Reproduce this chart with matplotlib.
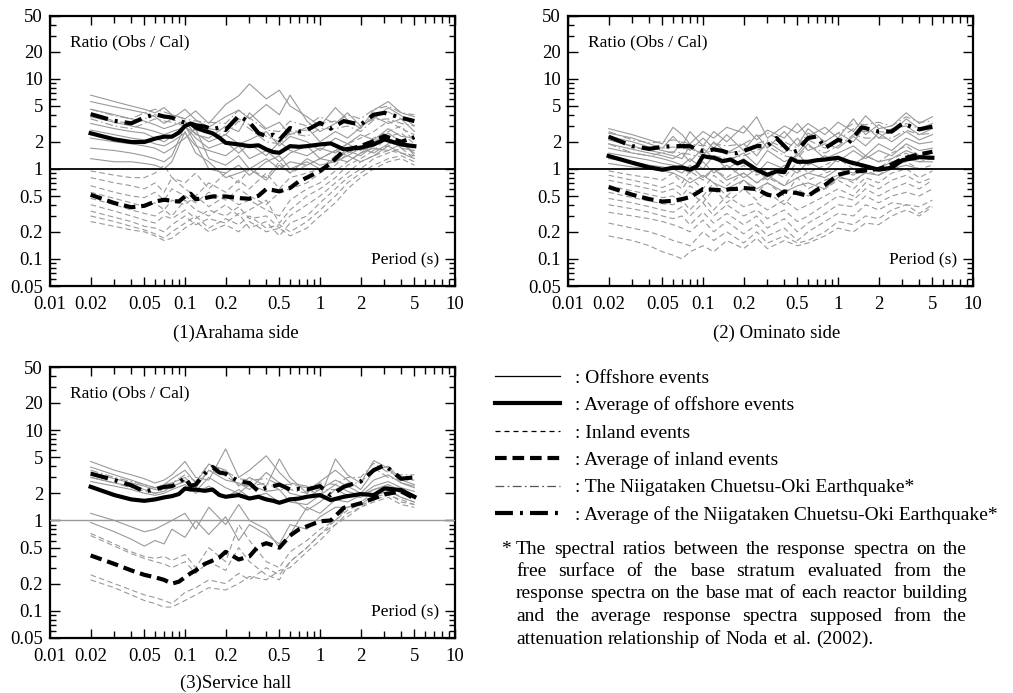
import matplotlib
matplotlib.use("Agg")
import matplotlib.pyplot as plt
from matplotlib.lines import Line2D
from matplotlib.ticker import FixedLocator, NullFormatter

plt.rcParams['font.family'] = ['Liberation Serif', 'DejaVu Serif']

# periods (s) at which the thin event curves were read
period = [0.02, 0.03, 0.04, 0.05, 0.06, 0.07, 0.08, 0.1, 0.12, 0.15, 0.2, 0.25, 0.3,
          0.4, 0.5, 0.6, 0.8, 1.0, 1.3, 1.6, 2.0, 2.5, 3.2, 4.0, 5.0]
# periods (s) at which the thick average curves were read
period_avg = [0.02, 0.03, 0.04, 0.05, 0.06, 0.07, 0.08, 0.09, 0.1, 0.11, 0.12, 0.14, 0.16,
              0.18, 0.2, 0.25, 0.3, 0.35, 0.4, 0.45, 0.5, 0.6, 0.7, 0.8, 1.0, 1.2, 1.5,
              2.0, 2.5, 3.0, 4.0, 5.0]

# ---- (1) Arahama side ----
arahama_offshore = [
    [6.6, 5.6, 5.0, 4.6, 4.2, 4.8, 4.0, 3.6, 4.4, 3.2, 5.2, 6.5, 8.8, 6.0, 7.5, 5.0, 3.8, 3.0, 4.8, 3.5, 2.8, 4.5, 5.6, 4.2, 3.8],
    [5.6, 4.9, 4.5, 4.2, 3.8, 3.2, 3.6, 4.6, 3.5, 2.9, 3.8, 4.5, 3.6, 5.2, 4.0, 6.6, 3.4, 2.6, 3.2, 4.2, 3.0, 3.6, 4.8, 3.9, 3.0],
    [4.6, 4.0, 3.6, 3.4, 3.1, 2.8, 3.0, 3.4, 2.4, 2.2, 3.0, 2.6, 4.2, 2.8, 3.3, 2.4, 2.9, 2.0, 2.6, 2.2, 2.9, 3.8, 3.2, 3.6, 2.6],
    [3.8, 3.3, 3.0, 2.8, 2.6, 2.4, 2.6, 2.9, 2.5, 2.0, 2.4, 1.9, 2.1, 2.6, 1.8, 2.3, 2.0, 1.6, 2.2, 1.9, 2.4, 2.1, 2.8, 2.3, 2.2],
    [3.2, 2.8, 2.6, 2.5, 2.2, 2.0, 2.3, 3.0, 2.2, 1.7, 2.0, 1.5, 1.9, 1.4, 2.0, 1.6, 1.4, 1.7, 1.5, 1.9, 1.6, 2.0, 2.5, 2.0, 1.8],
    [2.7, 2.4, 2.2, 2.1, 1.9, 1.8, 2.0, 2.5, 1.8, 1.6, 1.4, 1.8, 1.3, 1.6, 1.2, 1.5, 1.8, 1.3, 1.2, 1.6, 1.4, 1.8, 2.2, 1.7, 1.6],
    [2.2, 2.0, 1.9, 1.8, 1.7, 1.5, 1.7, 2.2, 2.8, 1.3, 1.1, 1.4, 1.0, 1.3, 1.0, 1.2, 1.1, 1.3, 1.6, 1.4, 1.7, 1.5, 1.9, 2.1, 1.4],
    [1.7, 1.6, 1.5, 1.4, 1.3, 1.2, 1.4, 3.0, 1.9, 1.0, 0.9, 1.1, 0.85, 1.2, 1.4, 1.0, 1.2, 1.0, 1.3, 1.2, 1.5, 1.7, 1.6, 1.9, 1.5],
    [1.3, 1.2, 1.2, 1.15, 1.1, 1.0, 1.2, 2.6, 1.5, 1.2, 0.8, 0.9, 1.0, 0.75, 1.1, 0.9, 1.3, 1.1, 1.2, 1.4, 1.2, 1.4, 1.8, 1.5, 1.3],
]
arahama_inland = [
    [0.95, 0.85, 0.8, 0.8, 0.9, 1.1, 0.8, 0.7, 0.9, 0.6, 0.9, 0.7, 1.0, 0.8, 1.2, 0.9, 1.1, 1.3, 1.6, 1.9, 2.2, 2.6, 3.4, 2.8, 2.4],
    [0.8, 0.7, 0.65, 0.6, 0.7, 0.55, 0.8, 0.6, 0.5, 0.7, 0.55, 0.75, 0.6, 0.9, 0.6, 0.8, 0.9, 1.0, 1.4, 1.6, 1.8, 2.2, 2.6, 3.0, 2.0],
    [0.65, 0.55, 0.5, 0.48, 0.55, 0.45, 0.6, 0.5, 0.42, 0.55, 0.45, 0.6, 0.5, 0.4, 0.55, 0.6, 0.7, 0.9, 1.1, 1.5, 1.7, 1.6, 2.3, 2.5, 1.9],
    [0.55, 0.47, 0.42, 0.38, 0.42, 0.35, 0.45, 0.4, 0.5, 0.38, 0.5, 0.4, 0.45, 0.35, 0.3, 0.45, 0.6, 0.7, 0.95, 1.2, 1.5, 1.9, 2.1, 1.8, 1.7],
    [0.47, 0.4, 0.35, 0.32, 0.3, 0.35, 0.3, 0.45, 0.35, 0.3, 0.4, 0.3, 0.35, 0.45, 0.25, 0.35, 0.5, 0.6, 0.8, 1.1, 1.3, 1.6, 1.8, 2.0, 1.5],
    [0.4, 0.34, 0.3, 0.27, 0.25, 0.3, 0.28, 0.35, 0.28, 0.35, 0.3, 0.38, 0.28, 0.3, 0.22, 0.3, 0.4, 0.5, 0.7, 0.9, 1.2, 1.4, 1.6, 1.5, 1.4],
    [0.34, 0.29, 0.26, 0.23, 0.22, 0.2, 0.24, 0.3, 0.24, 0.28, 0.25, 0.32, 0.22, 0.26, 0.18, 0.25, 0.3, 0.42, 0.6, 0.8, 1.0, 1.3, 1.5, 1.7, 1.3],
    [0.3, 0.26, 0.23, 0.21, 0.19, 0.17, 0.2, 0.25, 0.3, 0.22, 0.28, 0.24, 0.3, 0.22, 0.24, 0.2, 0.26, 0.35, 0.5, 0.7, 0.9, 1.1, 1.3, 1.4, 1.2],
    [0.26, 0.23, 0.21, 0.2, 0.18, 0.16, 0.17, 0.22, 0.26, 0.2, 0.24, 0.2, 0.26, 0.2, 0.22, 0.18, 0.22, 0.3, 0.42, 0.6, 0.8, 1.0, 1.2, 1.3, 1.1],
]
arahama_chuetsu = [
    [4.6, 3.9, 3.6, 4.2, 4.6, 4.3, 4.0, 3.6, 3.4, 3.3, 3.2, 4.5, 3.7, 2.7, 2.6, 3.4, 3.0, 3.8, 3.2, 4.0, 3.6, 4.6, 5.0, 4.2, 4.0],
    [4.1, 3.4, 3.2, 3.6, 4.0, 3.7, 3.6, 3.1, 3.0, 2.8, 2.6, 3.6, 3.1, 2.3, 2.0, 2.6, 2.7, 3.2, 3.4, 3.3, 3.0, 3.9, 4.3, 3.6, 3.4],
    [3.6, 3.0, 2.8, 3.2, 3.6, 3.4, 3.3, 3.0, 2.7, 2.5, 2.4, 3.4, 2.8, 2.0, 1.9, 2.5, 2.3, 2.8, 2.8, 3.0, 2.6, 3.5, 3.6, 3.2, 3.0],
]
arahama_offshore_avg = [2.49, 2.13, 1.99, 1.99, 2.17, 2.28, 2.28, 2.53, 3.0, 3.2, 2.88, 2.64, 2.49, 2.22, 1.95, 1.87,
                        1.79, 1.83, 1.65, 1.54, 1.51, 1.79, 1.76, 1.79, 1.87, 1.92, 1.65, 1.72, 1.87, 2.13, 1.87, 1.79]
arahama_inland_avg = [0.516, 0.417, 0.375, 0.389, 0.434, 0.454, 0.442, 0.434, 0.494, 0.53, 0.46, 0.474, 0.494, 0.494, 0.494, 0.474,
                      0.466, 0.503, 0.597, 0.58, 0.562, 0.613, 0.73, 0.8, 0.95, 1.15, 1.6, 1.79, 2.04, 2.32, 2.0, 2.25]
arahama_chuetsu_avg = [4.06, 3.42, 3.21, 3.72, 4.06, 3.82, 3.72, 3.42, 3.27, 3.2, 3.06, 2.95, 2.76, 2.88, 2.71, 3.89,
                       3.3, 2.5, 2.3, 2.4, 2.1, 2.85, 2.6, 2.7, 3.25, 2.8, 3.4, 3.1, 4.0, 4.2, 3.7, 3.4]

# ---- (2) Ominato side ----
ominato_offshore = [
    [2.8, 2.4, 2.1, 1.9, 2.9, 2.4, 1.9, 2.6, 2.2, 2.9, 2.5, 3.8, 2.2, 3.0, 2.5, 3.2, 2.4, 3.3, 2.6, 3.9, 2.8, 3.0, 4.2, 3.2, 3.8],
    [2.5, 2.2, 1.9, 1.7, 2.3, 1.8, 2.6, 1.8, 2.6, 2.0, 3.0, 2.1, 2.7, 2.2, 3.2, 2.3, 2.9, 2.2, 3.6, 2.4, 3.1, 2.5, 3.6, 2.8, 3.2],
    [2.3, 2.0, 1.75, 1.6, 1.5, 2.0, 1.6, 2.2, 1.7, 2.4, 1.6, 2.4, 1.7, 2.6, 1.8, 2.8, 2.0, 2.5, 2.0, 3.0, 2.2, 2.8, 3.0, 2.4, 2.8],
    [2.1, 1.8, 1.6, 1.5, 1.4, 1.3, 1.8, 1.4, 2.0, 1.5, 1.9, 1.4, 2.0, 1.5, 2.2, 1.6, 1.9, 1.7, 2.3, 1.8, 2.5, 2.0, 2.6, 2.1, 2.4],
    [1.9, 1.65, 1.5, 1.4, 1.3, 1.5, 1.2, 1.7, 1.3, 1.2, 1.5, 1.1, 1.6, 1.2, 1.4, 1.9, 1.3, 1.5, 1.8, 1.4, 1.9, 1.6, 2.2, 1.9, 2.0],
    [1.7, 1.5, 1.4, 1.3, 1.2, 1.1, 1.3, 1.0, 1.4, 1.0, 1.3, 0.9, 1.2, 1.0, 1.5, 1.1, 1.4, 1.2, 1.6, 1.3, 1.6, 1.4, 1.9, 1.6, 1.7],
    [1.5, 1.35, 1.25, 1.15, 1.1, 1.0, 0.9, 1.2, 0.9, 1.1, 0.8, 1.0, 0.75, 1.1, 0.9, 1.2, 0.95, 1.3, 1.1, 1.4, 1.2, 1.3, 1.6, 1.4, 1.5],
    [1.3, 1.2, 1.1, 1.05, 1.0, 0.9, 1.1, 0.8, 1.0, 0.75, 0.9, 0.7, 0.85, 0.65, 0.8, 0.9, 0.8, 1.0, 0.9, 1.1, 1.0, 1.2, 1.3, 1.2, 1.2],
    [1.15, 1.05, 1.0, 0.95, 0.9, 0.8, 0.7, 0.85, 0.7, 0.6, 0.75, 0.6, 0.7, 0.55, 0.65, 0.7, 0.6, 0.8, 0.75, 0.9, 0.85, 1.0, 1.1, 1.0, 1.0],
]
ominato_inland = [
    [0.95, 0.85, 0.8, 0.75, 0.9, 0.7, 0.95, 0.75, 1.0, 0.8, 1.1, 0.85, 1.0, 0.8, 1.2, 0.9, 1.1, 1.3, 1.0, 1.4, 1.2, 1.5, 1.8, 1.4, 1.6],
    [0.85, 0.75, 0.68, 0.62, 0.7, 0.6, 0.8, 0.6, 0.85, 0.65, 0.9, 0.7, 0.8, 0.65, 1.0, 0.75, 0.9, 1.0, 0.85, 1.1, 1.0, 1.3, 1.5, 1.2, 1.3],
    [0.75, 0.66, 0.6, 0.55, 0.6, 0.5, 0.65, 0.5, 0.7, 0.5, 0.75, 0.55, 0.7, 0.5, 0.8, 0.6, 0.75, 0.85, 0.7, 0.95, 0.85, 1.1, 1.2, 1.0, 1.1],
    [0.65, 0.57, 0.52, 0.48, 0.5, 0.42, 0.55, 0.42, 0.6, 0.42, 0.6, 0.45, 0.55, 0.4, 0.6, 0.5, 0.6, 0.75, 0.6, 0.8, 0.7, 0.9, 1.0, 0.8, 0.95],
    [0.55, 0.48, 0.44, 0.41, 0.4, 0.45, 0.35, 0.5, 0.35, 0.5, 0.38, 0.42, 0.35, 0.45, 0.35, 0.4, 0.5, 0.6, 0.5, 0.7, 0.6, 0.75, 0.85, 0.7, 0.8],
    [0.47, 0.42, 0.38, 0.35, 0.33, 0.38, 0.3, 0.42, 0.3, 0.4, 0.3, 0.35, 0.28, 0.35, 0.26, 0.3, 0.4, 0.5, 0.45, 0.6, 0.5, 0.6, 0.7, 0.6, 0.75],
    [0.4, 0.36, 0.33, 0.3, 0.28, 0.3, 0.24, 0.33, 0.25, 0.32, 0.24, 0.3, 0.22, 0.28, 0.2, 0.25, 0.32, 0.4, 0.38, 0.5, 0.42, 0.5, 0.55, 0.5, 0.6],
    [0.33, 0.3, 0.28, 0.26, 0.24, 0.22, 0.2, 0.27, 0.2, 0.26, 0.19, 0.24, 0.18, 0.22, 0.16, 0.2, 0.26, 0.32, 0.3, 0.4, 0.35, 0.42, 0.4, 0.38, 0.45],
    [0.25, 0.22, 0.2, 0.18, 0.16, 0.15, 0.14, 0.2, 0.16, 0.2, 0.15, 0.2, 0.15, 0.18, 0.15, 0.16, 0.2, 0.26, 0.24, 0.3, 0.28, 0.35, 0.4, 0.32, 0.4],
    [0.18, 0.16, 0.14, 0.12, 0.11, 0.1, 0.12, 0.14, 0.12, 0.16, 0.13, 0.17, 0.13, 0.16, 0.14, 0.15, 0.18, 0.22, 0.2, 0.25, 0.24, 0.3, 0.35, 0.3, 0.38],
]
ominato_chuetsu = [
    [2.6, 2.1, 1.95, 2.0, 2.1, 2.0, 1.9, 1.8, 1.9, 1.8, 1.9, 2.3, 2.5, 2.0, 1.7, 2.5, 2.0, 2.5, 3.2, 3.1, 3.3, 3.0, 3.8, 3.3, 3.4],
    [2.2, 1.75, 1.6, 1.7, 1.75, 1.7, 1.65, 1.5, 1.6, 1.5, 1.6, 1.9, 2.1, 1.7, 1.5, 2.1, 1.7, 2.1, 2.8, 2.6, 2.6, 2.5, 3.2, 2.8, 2.9],
    [1.9, 1.5, 1.4, 1.5, 1.55, 1.5, 1.45, 1.35, 1.4, 1.3, 1.4, 1.6, 1.8, 1.4, 1.3, 1.8, 1.5, 1.8, 2.4, 2.2, 2.2, 2.2, 2.7, 2.4, 2.5],
]
ominato_offshore_avg = [1.39, 1.17, 1.04, 0.98, 1.03, 1.04, 0.98, 1.07, 1.39, 1.35, 1.33, 1.22, 1.27, 1.15, 1.22, 0.98,
                        0.86, 0.94, 0.92, 1.3, 1.2, 1.2, 1.25, 1.27, 1.33, 1.2, 1.1, 0.98, 1.03, 1.25, 1.35, 1.33]
ominato_inland_avg = [0.629, 0.516, 0.462, 0.434, 0.442, 0.462, 0.486, 0.538, 0.597, 0.59, 0.587, 0.577, 0.597, 0.6, 0.613, 0.597,
                      0.516, 0.494, 0.562, 0.55, 0.538, 0.5, 0.587, 0.66, 0.86, 0.92, 0.95, 1.0, 1.12, 1.3, 1.45, 1.55]
ominato_chuetsu_avg = [2.28, 1.79, 1.67, 1.76, 1.79, 1.79, 1.79, 1.65, 1.58, 1.6, 1.65, 1.58, 1.48, 1.5, 1.58, 1.79,
                       1.8, 2.2, 1.8, 1.5, 1.6, 2.2, 2.3, 1.7, 2.1, 1.95, 2.9, 2.6, 2.6, 3.2, 2.75, 2.95]

# ---- (3) Service hall ----
service_offshore = [
    [4.5, 3.6, 3.2, 2.9, 2.6, 2.8, 3.2, 4.5, 3.0, 2.8, 6.2, 3.0, 3.6, 5.2, 3.4, 2.6, 2.4, 1.8, 4.8, 3.2, 2.6, 4.6, 3.8, 2.6, 2.4],
    [3.9, 3.2, 2.8, 2.5, 2.3, 2.5, 2.9, 3.6, 2.6, 4.2, 3.6, 2.4, 3.0, 2.4, 4.8, 3.0, 2.0, 2.7, 3.6, 2.8, 2.2, 3.5, 4.0, 2.8, 2.5],
    [3.4, 2.9, 2.6, 2.4, 2.2, 2.3, 2.6, 3.0, 2.3, 3.6, 2.8, 2.6, 2.2, 3.4, 2.6, 2.0, 1.8, 2.2, 2.8, 2.4, 2.0, 2.8, 3.2, 2.6, 2.3],
    [3.0, 2.6, 2.4, 2.2, 2.0, 2.1, 2.4, 2.7, 2.1, 3.0, 2.3, 2.0, 2.5, 2.1, 2.2, 1.6, 1.5, 1.9, 2.5, 2.1, 1.9, 2.4, 2.7, 2.3, 2.1],
    [2.7, 2.4, 2.2, 2.0, 1.9, 2.0, 2.2, 2.5, 2.0, 2.4, 1.8, 2.2, 1.8, 2.0, 1.6, 1.8, 1.3, 1.6, 2.2, 1.9, 1.8, 2.2, 2.5, 2.1, 1.9],
    [1.2, 1.0, 0.85, 0.75, 0.8, 0.9, 1.0, 1.2, 0.8, 1.4, 0.9, 1.5, 1.0, 0.8, 0.5, 0.7, 1.4, 1.2, 1.7, 1.6, 1.9, 2.2, 2.4, 2.0, 1.8],
    [0.95, 0.75, 0.62, 0.52, 0.6, 0.55, 0.8, 0.65, 1.0, 0.7, 1.1, 0.6, 0.9, 0.7, 0.55, 0.9, 0.8, 1.1, 1.4, 1.4, 1.5, 1.9, 2.1, 1.8, 1.6],
]
service_inland = [
    [0.72, 0.55, 0.45, 0.4, 0.38, 0.4, 0.36, 0.42, 0.3, 0.5, 0.35, 0.9, 0.6, 0.35, 0.3, 0.45, 0.6, 0.8, 1.0, 1.4, 1.6, 2.0, 2.2, 1.8, 1.6],
    [0.68, 0.52, 0.43, 0.38, 0.35, 0.33, 0.3, 0.35, 0.26, 0.35, 0.28, 0.5, 0.35, 0.25, 0.22, 0.35, 0.5, 0.7, 0.9, 1.2, 1.4, 1.8, 2.0, 1.6, 1.5],
    [0.25, 0.2, 0.17, 0.15, 0.14, 0.13, 0.12, 0.16, 0.18, 0.22, 0.2, 0.26, 0.22, 0.3, 0.25, 0.35, 0.5, 0.7, 1.0, 1.3, 1.5, 1.7, 1.9, 1.7, 1.5],
    [0.22, 0.18, 0.15, 0.13, 0.12, 0.11, 0.11, 0.13, 0.15, 0.18, 0.17, 0.2, 0.24, 0.22, 0.28, 0.3, 0.45, 0.6, 0.9, 1.1, 1.4, 1.6, 1.8, 1.5, 1.4],
]
service_chuetsu = [
    [3.6, 3.0, 2.7, 2.5, 2.3, 2.5, 2.6, 3.2, 2.7, 4.2, 3.5, 2.9, 2.8, 2.9, 2.5, 2.5, 2.3, 2.6, 2.5, 3.0, 3.0, 4.3, 3.4, 3.2, 3.2],
    [3.0, 2.6, 2.3, 2.1, 2.0, 2.2, 2.3, 2.8, 2.4, 3.6, 3.1, 2.5, 2.4, 2.6, 2.2, 2.2, 2.0, 2.2, 2.2, 2.6, 2.6, 3.8, 3.0, 2.8, 2.8],
]
service_offshore_avg = [2.36, 1.91, 1.71, 1.65, 1.71, 1.80, 1.86, 1.96, 2.26, 2.2, 2.20, 2.13, 2.20, 1.91, 1.83, 1.91,
                        1.75, 1.83, 1.71, 1.65, 1.57, 1.71, 1.75, 1.83, 1.91, 1.68, 1.83, 1.96, 1.91, 2.26, 2.17, 1.83]
service_inland_avg = [0.41, 0.33, 0.28, 0.25, 0.235, 0.22, 0.20, 0.21, 0.235, 0.26, 0.28, 0.33, 0.36, 0.39, 0.45, 0.37,
                      0.40, 0.52, 0.56, 0.53, 0.50, 0.68, 0.80, 0.86, 0.98, 1.0, 1.38, 1.55, 1.75, 1.95, 2.1, 1.75]
service_chuetsu_avg = [3.3, 2.8, 2.45, 2.1, 2.2, 2.35, 2.4, 2.6, 3.0, 2.4, 2.5, 3.3, 3.9, 3.4, 3.3, 2.7,
                       2.6, 2.1, 2.3, 2.4, 2.5, 2.2, 2.25, 2.2, 2.4, 1.9, 2.36, 2.7, 3.6, 4.1, 2.9, 3.0]

panel_titles = ['(1)Arahama side', '(2) Ominato side', '(3)Service hall']
x_tick_values = [0.01, 0.02, 0.05, 0.1, 0.2, 0.5, 1, 2, 5, 10]
x_tick_labels = ['0.01', '0.02', '0.05', '0.1', '0.2', '0.5', '1', '2', '5', '10']
y_tick_values = [0.05, 0.1, 0.2, 0.5, 1, 2, 5, 10, 20, 50]
y_tick_labels = ['0.05', '0.1', '0.2', '0.5', '1', '2', '5', '10', '20', '50']
legend_labels = ['Offshore events', 'Average of offshore events', 'Inland events',
                 'Average of inland events', 'The Niigataken Chuetsu-Oki Earthquake*',
                 'Average of the Niigataken Chuetsu-Oki Earthquake*']
footnote_lines = [
    'The spectral ratios between the response spectra on the',
    'free surface of the base stratum evaluated from the',
    'response spectra on the base mat of each reactor building',
    'and the average response spectra supposed from the',
    'attenuation relationship of Noda et al. (2002).',
]

GRAY = '#999999'
THIN = 0.8
THICK = 3.0
DASH_THIN = (5, 3)
DASHDOT_THIN = (7, 2.7, 1.4, 2.7)
DASH_THICK = (2.8, 1.4)
DASHDOT_THICK = (4.3, 1.7, 0.7, 1.7)
TICK_FS = 13.5

W, H = 1013, 693
fig = plt.figure(figsize=(W / 100, H / 100), dpi=100)
ax1 = fig.add_axes([50 / W, 1 - 286 / H, 405 / W, 270 / H])
ax2 = fig.add_axes([568 / W, 1 - 286 / H, 405 / W, 270 / H])
ax3 = fig.add_axes([50 / W, 1 - 638 / H, 405 / W, 271 / H])


def draw_panel(ax, off, inl, chu, off_avg, in_avg, ch_avg, unity_color):
    for v in off:
        ax.plot(period, v, color=GRAY, lw=THIN)
    for v in inl:
        ax.plot(period, v, color=GRAY, lw=THIN, dashes=DASH_THIN)
    for v in chu:
        ax.plot(period, v, color=GRAY, lw=THIN, dashes=DASHDOT_THIN)
    ax.axhline(1, color=unity_color, lw=1.3 if unity_color == 'black' else 1.0, zorder=3)
    ax.plot(period_avg, off_avg, color='black', lw=THICK, zorder=4)
    ax.plot(period_avg, in_avg, color='black', lw=THICK, dashes=DASH_THICK, zorder=4)
    ax.plot(period_avg, ch_avg, color='black', lw=THICK, dashes=DASHDOT_THICK, zorder=4)

    ax.set_xscale('log')
    ax.set_yscale('log')
    ax.set_xlim(0.01, 10)
    ax.set_ylim(0.05, 50)
    ax.xaxis.set_major_locator(FixedLocator(x_tick_values))
    ax.set_xticklabels(x_tick_labels)
    ax.xaxis.set_minor_locator(FixedLocator([0.03, 0.04, 0.06, 0.07, 0.08, 0.09, 0.3, 0.4, 0.6, 0.7,
                                             0.8, 0.9, 3, 4, 6, 7, 8, 9]))
    ax.yaxis.set_major_locator(FixedLocator(y_tick_values))
    ax.set_yticklabels(y_tick_labels)
    ax.yaxis.set_minor_locator(FixedLocator([0.06, 0.07, 0.08, 0.09, 0.3, 0.4, 0.6, 0.7, 0.8, 0.9,
                                             3, 4, 6, 7, 8, 9, 30, 40]))
    ax.xaxis.set_minor_formatter(NullFormatter())
    ax.yaxis.set_minor_formatter(NullFormatter())
    ax.tick_params(which='both', direction='in', top=True, right=True, labelsize=TICK_FS, width=1.0)
    ax.tick_params(axis='x', which='major', length=6.5, pad=7)
    ax.tick_params(axis='x', which='minor', length=5)
    ax.tick_params(axis='y', which='major', length=7.5, pad=5)
    ax.tick_params(axis='y', which='minor', length=4.5)
    for s in ax.spines.values():
        s.set_linewidth(1.6)
    ax.text(0.049, 0.904, 'Ratio (Obs / Cal)', transform=ax.transAxes, ha='left', va='center', fontsize=12.5)
    ax.text(0.96, 0.10, 'Period (s)', transform=ax.transAxes, ha='right', va='center', fontsize=12.5)


draw_panel(ax1, arahama_offshore, arahama_inland, arahama_chuetsu,
           arahama_offshore_avg, arahama_inland_avg, arahama_chuetsu_avg, 'black')
draw_panel(ax2, ominato_offshore, ominato_inland, ominato_chuetsu,
           ominato_offshore_avg, ominato_inland_avg, ominato_chuetsu_avg, 'black')
draw_panel(ax3, service_offshore, service_inland, service_chuetsu,
           service_offshore_avg, service_inland_avg, service_chuetsu_avg, GRAY)

fig.text(236 / W, 1 - 333 / H, panel_titles[0], ha='center', va='center', fontsize=13.5)
fig.text(777 / W, 1 - 333 / H, panel_titles[1], ha='center', va='center', fontsize=13.5)
fig.text(236 / W, 1 - 683 / H, panel_titles[2], ha='center', va='center', fontsize=13.5)

handles = [
    Line2D([], [], color='black', lw=0.9),
    Line2D([], [], color='black', lw=THICK),
    Line2D([], [], color='black', lw=0.9, dashes=(4.0, 3.2)),
    Line2D([], [], color='black', lw=THICK, dashes=DASH_THICK),
    Line2D([], [], color='#555555', lw=0.9, dashes=DASHDOT_THIN),
    Line2D([], [], color='black', lw=THICK, dashes=DASHDOT_THICK),
]
fig.legend(handles, [': ' + s for s in legend_labels], loc='upper left',
           bbox_to_anchor=(495 / W, 1 - 369 / H), frameon=False, fontsize=14,
           handlelength=3.35, handletextpad=0.75, labelspacing=0.5, borderpad=0, borderaxespad=0)

# footnote, justified between x=516 and x=967 px
FOOT_FS = 14
fig.text(501 / W, 1 - 549 / H, '*', ha='left', va='center', fontsize=FOOT_FS)
renderer = fig.canvas.get_renderer()
left_px, right_px = 516, 967
line_y = [549, 571.5, 594, 616.5, 639]
for i, line in enumerate(footnote_lines):
    words = line.split(' ')
    texts = [fig.text(0, 1 - line_y[i] / H, w, ha='left', va='center', fontsize=FOOT_FS) for w in words]
    widths = [t.get_window_extent(renderer).width for t in texts]
    if i < len(footnote_lines) - 1:
        gap = (right_px - left_px - sum(widths)) / (len(words) - 1)
    else:
        sp = fig.text(0, 0, 'a a', fontsize=FOOT_FS)
        sp2 = fig.text(0, 0, 'aa', fontsize=FOOT_FS)
        gap = sp.get_window_extent(renderer).width - sp2.get_window_extent(renderer).width
        sp.remove()
        sp2.remove()
    x = left_px
    for t, w in zip(texts, widths):
        t.set_x(x / W)
        x += w + gap

fig.savefig('out.png', dpi=100)
